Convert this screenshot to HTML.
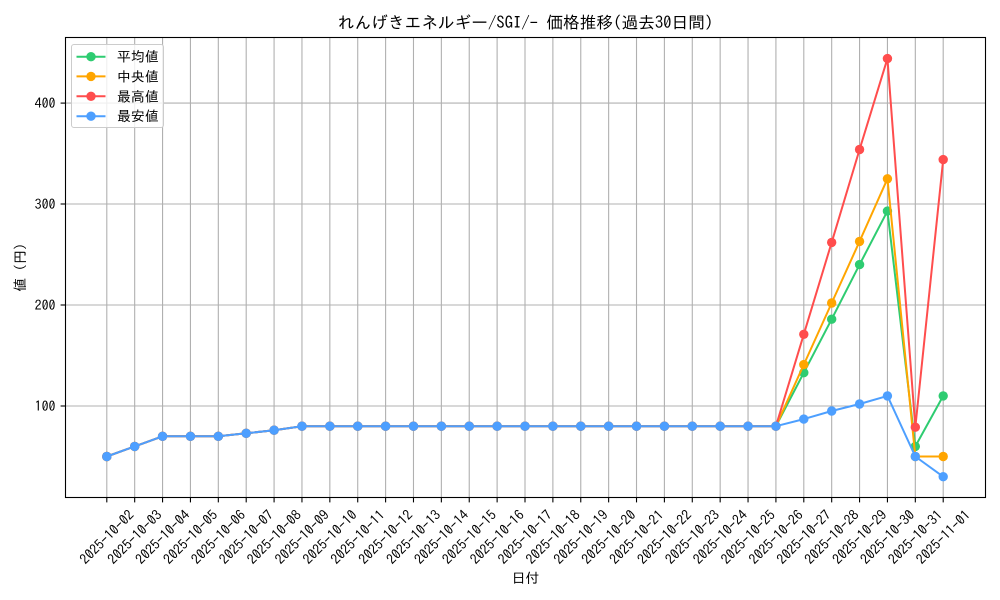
<!DOCTYPE html>
<html><head><meta charset="utf-8"><style>
html,body{margin:0;padding:0;background:#fff;}
svg{display:block;}
text{font-family:"IPAGothic","Liberation Sans","Noto Sans CJK JP",sans-serif;fill:#000;}
</style></head><body>
<svg width="1000" height="600" viewBox="0 0 1000 600" xmlns="http://www.w3.org/2000/svg">
<defs>
<marker id="mg" markerUnits="userSpaceOnUse" markerWidth="12" markerHeight="12" refX="6" refY="6"><circle cx="6" cy="6" r="4.7" fill="#2ecc71"/></marker>
<marker id="mo" markerUnits="userSpaceOnUse" markerWidth="12" markerHeight="12" refX="6" refY="6"><circle cx="6" cy="6" r="4.7" fill="#ffa500"/></marker>
<marker id="mr" markerUnits="userSpaceOnUse" markerWidth="12" markerHeight="12" refX="6" refY="6"><circle cx="6" cy="6" r="4.7" fill="#ff4d4d"/></marker>
<marker id="mb" markerUnits="userSpaceOnUse" markerWidth="12" markerHeight="12" refX="6" refY="6"><circle cx="6" cy="6" r="4.7" fill="#4d9fff"/></marker>
</defs>
<rect x="0" y="0" width="1000" height="600" fill="#fff"/>
<!-- grid -->
<g stroke="#b0b0b0" stroke-width="1.1">
<line x1="106.8" y1="37.5" x2="106.8" y2="497.5"/><line x1="134.68" y1="37.5" x2="134.68" y2="497.5"/><line x1="162.56" y1="37.5" x2="162.56" y2="497.5"/><line x1="190.44" y1="37.5" x2="190.44" y2="497.5"/><line x1="218.32" y1="37.5" x2="218.32" y2="497.5"/><line x1="246.2" y1="37.5" x2="246.2" y2="497.5"/><line x1="274.08" y1="37.5" x2="274.08" y2="497.5"/><line x1="301.96" y1="37.5" x2="301.96" y2="497.5"/><line x1="329.84" y1="37.5" x2="329.84" y2="497.5"/><line x1="357.72" y1="37.5" x2="357.72" y2="497.5"/><line x1="385.6" y1="37.5" x2="385.6" y2="497.5"/><line x1="413.48" y1="37.5" x2="413.48" y2="497.5"/><line x1="441.36" y1="37.5" x2="441.36" y2="497.5"/><line x1="469.24" y1="37.5" x2="469.24" y2="497.5"/><line x1="497.12" y1="37.5" x2="497.12" y2="497.5"/><line x1="525" y1="37.5" x2="525" y2="497.5"/><line x1="552.88" y1="37.5" x2="552.88" y2="497.5"/><line x1="580.76" y1="37.5" x2="580.76" y2="497.5"/><line x1="608.64" y1="37.5" x2="608.64" y2="497.5"/><line x1="636.52" y1="37.5" x2="636.52" y2="497.5"/><line x1="664.4" y1="37.5" x2="664.4" y2="497.5"/><line x1="692.28" y1="37.5" x2="692.28" y2="497.5"/><line x1="720.16" y1="37.5" x2="720.16" y2="497.5"/><line x1="748.04" y1="37.5" x2="748.04" y2="497.5"/><line x1="775.92" y1="37.5" x2="775.92" y2="497.5"/><line x1="803.8" y1="37.5" x2="803.8" y2="497.5"/><line x1="831.68" y1="37.5" x2="831.68" y2="497.5"/><line x1="859.56" y1="37.5" x2="859.56" y2="497.5"/><line x1="887.44" y1="37.5" x2="887.44" y2="497.5"/><line x1="915.32" y1="37.5" x2="915.32" y2="497.5"/><line x1="943.2" y1="37.5" x2="943.2" y2="497.5"/>
<line x1="65.5" y1="406" x2="985.5" y2="406"/><line x1="65.5" y1="305" x2="985.5" y2="305"/><line x1="65.5" y1="204" x2="985.5" y2="204"/><line x1="65.5" y1="103.1" x2="985.5" y2="103.1"/>
</g>
<!-- series -->
<g fill="none" stroke-width="2" stroke-linejoin="round">
<polyline stroke="#2ecc71" marker-start="url(#mg)" marker-mid="url(#mg)" marker-end="url(#mg)" points="106.8,456.5 134.68,446.4 162.56,436.3 190.44,436.3 218.32,436.3 246.2,433.3 274.08,430.2 301.96,426.2 329.84,426.2 357.72,426.2 385.6,426.2 413.48,426.2 441.36,426.2 469.24,426.2 497.12,426.2 525,426.2 552.88,426.2 580.76,426.2 608.64,426.2 636.52,426.2 664.4,426.2 692.28,426.2 720.16,426.2 748.04,426.2 775.92,426.2 803.8,372.7 831.68,319.2 859.56,264.6 887.44,211.1 915.32,446.4 943.2,395.9"/>
<polyline stroke="#ffa500" marker-start="url(#mo)" marker-mid="url(#mo)" marker-end="url(#mo)" points="106.8,456.5 134.68,446.4 162.56,436.3 190.44,436.3 218.32,436.3 246.2,433.3 274.08,430.2 301.96,426.2 329.84,426.2 357.72,426.2 385.6,426.2 413.48,426.2 441.36,426.2 469.24,426.2 497.12,426.2 525,426.2 552.88,426.2 580.76,426.2 608.64,426.2 636.52,426.2 664.4,426.2 692.28,426.2 720.16,426.2 748.04,426.2 775.92,426.2 803.8,364.6 831.68,303.0 859.56,241.4 887.44,178.8 915.32,456.5 943.2,456.5"/>
<polyline stroke="#ff4d4d" marker-start="url(#mr)" marker-mid="url(#mr)" marker-end="url(#mr)" points="106.8,456.5 134.68,446.4 162.56,436.3 190.44,436.3 218.32,436.3 246.2,433.3 274.08,430.2 301.96,426.2 329.84,426.2 357.72,426.2 385.6,426.2 413.48,426.2 441.36,426.2 469.24,426.2 497.12,426.2 525,426.2 552.88,426.2 580.76,426.2 608.64,426.2 636.52,426.2 664.4,426.2 692.28,426.2 720.16,426.2 748.04,426.2 775.92,426.2 803.8,334.3 831.68,242.4 859.56,149.5 887.44,58.6 915.32,427.2 943.2,159.6"/>
<polyline stroke="#4d9fff" marker-start="url(#mb)" marker-mid="url(#mb)" marker-end="url(#mb)" points="106.8,456.5 134.68,446.4 162.56,436.3 190.44,436.3 218.32,436.3 246.2,433.3 274.08,430.2 301.96,426.2 329.84,426.2 357.72,426.2 385.6,426.2 413.48,426.2 441.36,426.2 469.24,426.2 497.12,426.2 525,426.2 552.88,426.2 580.76,426.2 608.64,426.2 636.52,426.2 664.4,426.2 692.28,426.2 720.16,426.2 748.04,426.2 775.92,426.2 803.8,419.1 831.68,411.0 859.56,404.0 887.44,395.9 915.32,456.5 943.2,476.7"/>
</g>
<!-- axes frame -->
<rect x="65.5" y="37.5" width="920" height="460" fill="none" stroke="#000" stroke-width="1.1"/>
<!-- ticks -->
<g stroke="#000" stroke-width="1.1">
<line x1="60.6" y1="406" x2="65.5" y2="406"/><line x1="60.6" y1="305" x2="65.5" y2="305"/><line x1="60.6" y1="204" x2="65.5" y2="204"/><line x1="60.6" y1="103.1" x2="65.5" y2="103.1"/>
<line x1="106.8" y1="497.5" x2="106.8" y2="502.4"/><line x1="134.68" y1="497.5" x2="134.68" y2="502.4"/><line x1="162.56" y1="497.5" x2="162.56" y2="502.4"/><line x1="190.44" y1="497.5" x2="190.44" y2="502.4"/><line x1="218.32" y1="497.5" x2="218.32" y2="502.4"/><line x1="246.2" y1="497.5" x2="246.2" y2="502.4"/><line x1="274.08" y1="497.5" x2="274.08" y2="502.4"/><line x1="301.96" y1="497.5" x2="301.96" y2="502.4"/><line x1="329.84" y1="497.5" x2="329.84" y2="502.4"/><line x1="357.72" y1="497.5" x2="357.72" y2="502.4"/><line x1="385.6" y1="497.5" x2="385.6" y2="502.4"/><line x1="413.48" y1="497.5" x2="413.48" y2="502.4"/><line x1="441.36" y1="497.5" x2="441.36" y2="502.4"/><line x1="469.24" y1="497.5" x2="469.24" y2="502.4"/><line x1="497.12" y1="497.5" x2="497.12" y2="502.4"/><line x1="525" y1="497.5" x2="525" y2="502.4"/><line x1="552.88" y1="497.5" x2="552.88" y2="502.4"/><line x1="580.76" y1="497.5" x2="580.76" y2="502.4"/><line x1="608.64" y1="497.5" x2="608.64" y2="502.4"/><line x1="636.52" y1="497.5" x2="636.52" y2="502.4"/><line x1="664.4" y1="497.5" x2="664.4" y2="502.4"/><line x1="692.28" y1="497.5" x2="692.28" y2="502.4"/><line x1="720.16" y1="497.5" x2="720.16" y2="502.4"/><line x1="748.04" y1="497.5" x2="748.04" y2="502.4"/><line x1="775.92" y1="497.5" x2="775.92" y2="502.4"/><line x1="803.8" y1="497.5" x2="803.8" y2="502.4"/><line x1="831.68" y1="497.5" x2="831.68" y2="502.4"/><line x1="859.56" y1="497.5" x2="859.56" y2="502.4"/><line x1="887.44" y1="497.5" x2="887.44" y2="502.4"/><line x1="915.32" y1="497.5" x2="915.32" y2="502.4"/><line x1="943.2" y1="497.5" x2="943.2" y2="502.4"/>
</g>
<!-- y tick labels -->
<g font-size="13.9" text-anchor="end" dominant-baseline="central">
<text x="55.5" y="406">100</text><text x="55.5" y="305">200</text><text x="55.5" y="204">300</text><text x="55.5" y="103.1">400</text>
</g>
<!-- x tick labels -->
<g font-size="13.9" text-anchor="middle" dominant-baseline="central">
<text transform="translate(106.8,537) rotate(-45)">2025-10-02</text>
<text transform="translate(134.68,537) rotate(-45)">2025-10-03</text>
<text transform="translate(162.56,537) rotate(-45)">2025-10-04</text>
<text transform="translate(190.44,537) rotate(-45)">2025-10-05</text>
<text transform="translate(218.32,537) rotate(-45)">2025-10-06</text>
<text transform="translate(246.2,537) rotate(-45)">2025-10-07</text>
<text transform="translate(274.08,537) rotate(-45)">2025-10-08</text>
<text transform="translate(301.96,537) rotate(-45)">2025-10-09</text>
<text transform="translate(329.84,537) rotate(-45)">2025-10-10</text>
<text transform="translate(357.72,537) rotate(-45)">2025-10-11</text>
<text transform="translate(385.6,537) rotate(-45)">2025-10-12</text>
<text transform="translate(413.48,537) rotate(-45)">2025-10-13</text>
<text transform="translate(441.36,537) rotate(-45)">2025-10-14</text>
<text transform="translate(469.24,537) rotate(-45)">2025-10-15</text>
<text transform="translate(497.12,537) rotate(-45)">2025-10-16</text>
<text transform="translate(525,537) rotate(-45)">2025-10-17</text>
<text transform="translate(552.88,537) rotate(-45)">2025-10-18</text>
<text transform="translate(580.76,537) rotate(-45)">2025-10-19</text>
<text transform="translate(608.64,537) rotate(-45)">2025-10-20</text>
<text transform="translate(636.52,537) rotate(-45)">2025-10-21</text>
<text transform="translate(664.4,537) rotate(-45)">2025-10-22</text>
<text transform="translate(692.28,537) rotate(-45)">2025-10-23</text>
<text transform="translate(720.16,537) rotate(-45)">2025-10-24</text>
<text transform="translate(748.04,537) rotate(-45)">2025-10-25</text>
<text transform="translate(775.92,537) rotate(-45)">2025-10-26</text>
<text transform="translate(803.8,537) rotate(-45)">2025-10-27</text>
<text transform="translate(831.68,537) rotate(-45)">2025-10-28</text>
<text transform="translate(859.56,537) rotate(-45)">2025-10-29</text>
<text transform="translate(887.44,537) rotate(-45)">2025-10-30</text>
<text transform="translate(915.32,537) rotate(-45)">2025-10-31</text>
<text transform="translate(943.2,537) rotate(-45)">2025-11-01</text>
</g>
<!-- axis labels & title -->
<text x="525.5" y="578" font-size="13.9" text-anchor="middle" dominant-baseline="central">日付</text>
<text transform="translate(20,267.5) rotate(-90)" font-size="13.9" text-anchor="middle" dominant-baseline="central">値 (円)</text>
<text x="525.5" y="23" font-size="16.7" text-anchor="middle" dominant-baseline="central">れんげきエネルギー/SGI/- 価格推移(過去30日間)</text>
<!-- legend -->
<rect x="71.5" y="44.5" width="92" height="83" rx="2.5" fill="#fff" fill-opacity="0.8" stroke="#cccccc" stroke-width="1"/>
<g stroke-width="2">
<line x1="76.5" y1="56.7" x2="105.5" y2="56.7" stroke="#2ecc71"/><circle cx="91" cy="56.7" r="4.7" fill="#2ecc71" stroke="none"/>
<line x1="76.5" y1="76.4" x2="105.5" y2="76.4" stroke="#ffa500"/><circle cx="91" cy="76.4" r="4.7" fill="#ffa500" stroke="none"/>
<line x1="76.5" y1="96.3" x2="105.5" y2="96.3" stroke="#ff4d4d"/><circle cx="91" cy="96.3" r="4.7" fill="#ff4d4d" stroke="none"/>
<line x1="76.5" y1="116.2" x2="105.5" y2="116.2" stroke="#4d9fff"/><circle cx="91" cy="116.2" r="4.7" fill="#4d9fff" stroke="none"/>
</g>
<g font-size="13.9" dominant-baseline="central">
<text x="117" y="56.7">平均値</text>
<text x="117" y="76.4">中央値</text>
<text x="117" y="96.3">最高値</text>
<text x="117" y="116.2">最安値</text>
</g>
</svg>
</body></html>
